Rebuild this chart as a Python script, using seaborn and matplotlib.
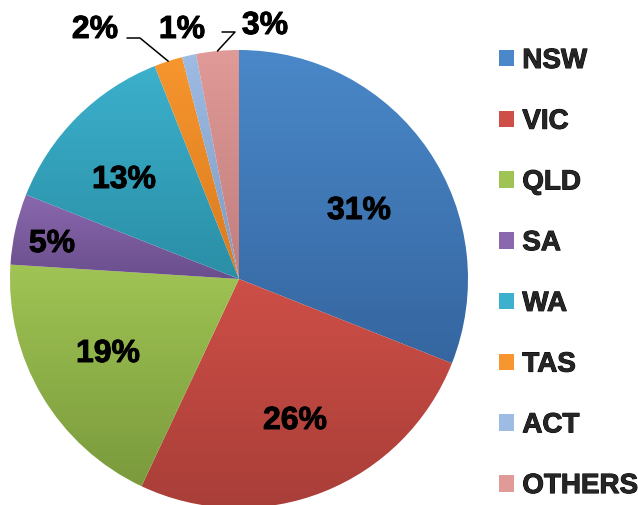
import numpy as np
import matplotlib
matplotlib.use("Agg")
import matplotlib.pyplot as plt
import matplotlib.colors as mcolors
import matplotlib.patheffects as pe
from matplotlib.patches import Patch
import seaborn as sns

# data
states = ["NSW", "VIC", "QLD", "SA", "WA", "TAS", "ACT", "OTHERS"]
shares = [31, 26, 19, 5, 13, 2, 1, 3]
pct_labels = ["31%", "26%", "19%", "5%", "13%", "2%", "1%", "3%"]

# gradient colours (top, bottom) per slice, Excel 2007 look
top_colors = ["#4A88C9", "#CD4F47", "#A0C454", "#8A68AE", "#3CB0CC", "#F7962E", "#9DBBE3", "#E09A98"]
bottom_colors = ["#3566A0", "#A93E38", "#7A9A3C", "#6A4E8C", "#2A8EA6", "#D97A1E", "#7E9AC2", "#C07E7C"]

sns.set_theme(style="white")
plt.rcParams["font.family"] = ["Liberation Sans", "DejaVu Sans"]

W, H = 638, 506
fig = plt.figure(figsize=(W / 100, H / 100), dpi=100)
ax = fig.add_axes([0, 0, 1, 1])

# pie center / radius in pixels
cx, cy, R = 239, 280, 229

def px(x, y):
    # pixel position -> data coords (pie radius = 1)
    return (x - cx) / R, (cy - y) / R

wedges, _ = ax.pie(shares, startangle=90, counterclock=False, radius=1,
                   colors=sns.color_palette(top_colors),
                   wedgeprops=dict(linewidth=0))

# vertical gradient fill clipped to each wedge
for w, c1, c2 in zip(wedges, top_colors, bottom_colors):
    ext = w.get_path().get_extents()
    cmap = mcolors.LinearSegmentedColormap.from_list("g", [c2, c1])
    grad = np.linspace(0, 1, 256).reshape(-1, 1)
    im = ax.imshow(grad, cmap=cmap, origin="lower", aspect="auto",
                   extent=[ext.x0, ext.x1, ext.y0, ext.y1], zorder=w.get_zorder())
    im.set_clip_path(w)
    w.set_facecolor("none")

ax.set_xlim(-cx / R, (W - cx) / R)
ax.set_ylim(-(H - cy) / R, cy / R)
ax.set_aspect("auto")
ax.axis("off")

bold = [pe.withStroke(linewidth=0.7, foreground="black")]

# label placement (pixel x-center, baseline y)
label_px = [(359, 220), (295, 430), (108, 363), (52, 253), (124, 189),
            (95, 39), (182, 39), (265, 35)]
for lab, (x, y) in zip(pct_labels, label_px):
    ax.text(*px(x, y), lab, fontsize=23, fontweight="bold", color="black",
            ha="center", va="baseline", zorder=5, path_effects=bold)

# leader lines for TAS and OTHERS
cum = np.cumsum([0] + shares[:-1])
mid_angles = [np.deg2rad(90 - 3.6 * (c + s / 2)) for c, s in zip(cum, shares)]
leaders = {5: [(127, 39), (140, 39)], 7: [(222, 33), (235, 33)]}
for i, pts in leaders.items():
    a = mid_angles[i]
    xy = [px(*p) for p in pts] + [(np.cos(a), np.sin(a))]
    ax.plot([p[0] for p in xy], [p[1] for p in xy], color="black", lw=1.1,
            zorder=5, clip_on=False)

# legend
handles = [Patch(facecolor=c, edgecolor="none") for c in top_colors]
leg = fig.legend(handles, states, loc="upper left", bbox_to_anchor=(499 / W, 1 - 49 / H),
                 frameon=False, prop=dict(size=20, weight="bold"),
                 handlelength=0.54, handleheight=0.54, handletextpad=0.3,
                 labelspacing=1.25, borderaxespad=0, borderpad=0)
for t in leg.get_texts():
    t.set_path_effects(bold)

plt.savefig("out.png", dpi=100)
